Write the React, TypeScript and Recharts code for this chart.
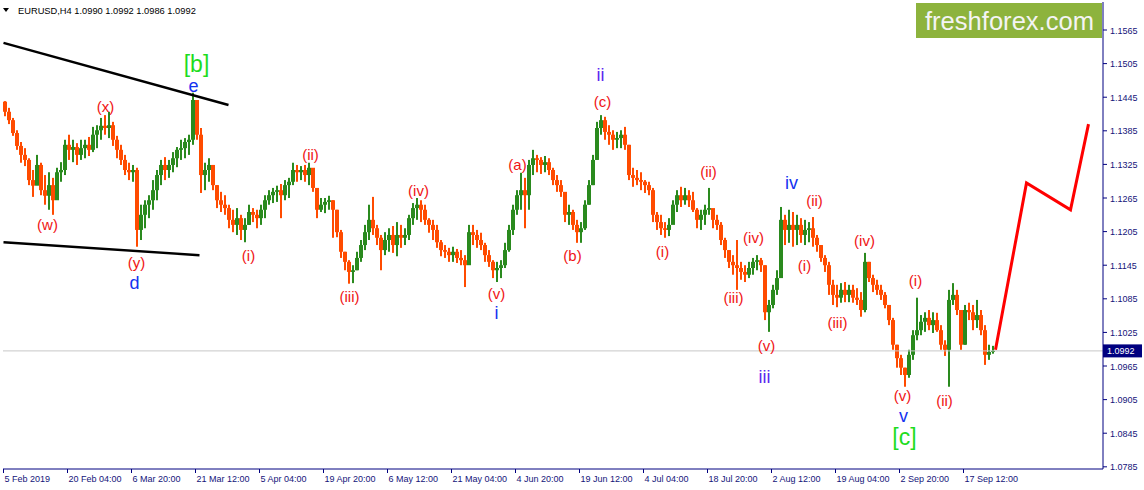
import React from 'react';
import {
  Bar,
  ComposedChart,
  Line,
  ReferenceDot,
  ReferenceLine,
  XAxis,
  YAxis,
} from 'recharts';

// EURUSD H4, 5 Feb - 20 Sep 2019, one candle per 4 H4 bars
const FIRST_OPEN = 1.1437;
const BARS_PER_CANDLE = 4;
const TOTAL_BARS = 1100;

const highs = [
  1.1438, 1.1426, 1.1408, 1.1386, 1.1365, 1.1354, 1.1336, 1.1315, 1.1342, 1.1328,
  1.1306, 1.1311, 1.1301, 1.1319, 1.1329, 1.1369, 1.1378, 1.1369, 1.1363, 1.1369,
  1.1369, 1.1374, 1.1392, 1.1395, 1.1408, 1.1413, 1.1419, 1.1401, 1.1376, 1.136,
  1.1342, 1.1328, 1.1324, 1.1319, 1.1253, 1.1261, 1.127, 1.1297, 1.1315, 1.1333,
  1.1338, 1.1333, 1.1347, 1.1356, 1.1369, 1.1372, 1.1378, 1.1453, 1.144, 1.139,
  1.1328, 1.1336, 1.1324, 1.1288, 1.1276, 1.127, 1.1253, 1.1244, 1.1247, 1.1235,
  1.1229, 1.1253, 1.1247, 1.1244, 1.1253, 1.127, 1.1279, 1.1283, 1.1287, 1.129,
  1.1297, 1.1301, 1.1328, 1.1324, 1.1322, 1.1324, 1.1328, 1.1315, 1.127, 1.1265,
  1.1265, 1.1269, 1.1261, 1.1244, 1.1208, 1.1169, 1.1154, 1.1145, 1.1169, 1.119,
  1.1217, 1.1253, 1.1267, 1.1217, 1.1199, 1.1204, 1.1211, 1.1215, 1.1222, 1.1217,
  1.1211, 1.1235, 1.1256, 1.1265, 1.1261, 1.1253, 1.1229, 1.1226, 1.1217, 1.119,
  1.1181, 1.1176, 1.1178, 1.1174, 1.1172, 1.1163, 1.1217, 1.1217, 1.1208, 1.1203,
  1.1185, 1.1172, 1.1154, 1.1151, 1.1154, 1.1185, 1.1217, 1.1253, 1.1279, 1.131,
  1.1301, 1.1333, 1.1351, 1.1342, 1.1338, 1.134, 1.1336, 1.1319, 1.1306, 1.1297,
  1.127, 1.1253, 1.1244, 1.1226, 1.1222, 1.1261, 1.1297, 1.1342, 1.1401, 1.1413,
  1.141, 1.1395, 1.1386, 1.1383, 1.1386, 1.1392, 1.136, 1.1319, 1.1315, 1.1311,
  1.1297, 1.1294, 1.1283, 1.124, 1.1235, 1.1222, 1.1229, 1.1261, 1.1279, 1.1285,
  1.1283, 1.1279, 1.1276, 1.1247, 1.1244, 1.1253, 1.1283, 1.1244, 1.1235, 1.1222,
  1.1194, 1.1172, 1.1163, 1.119, 1.1151, 1.1145, 1.1151, 1.1158, 1.1163, 1.1158,
  1.1145, 1.1083, 1.111, 1.1136, 1.1249, 1.1235, 1.1244, 1.124, 1.1235, 1.1229,
  1.1226, 1.1222, 1.1231, 1.1199, 1.1181, 1.1163, 1.1151, 1.1119, 1.111, 1.1113,
  1.1115, 1.111, 1.111, 1.1104, 1.1097, 1.1167, 1.1151, 1.1128, 1.1119, 1.111,
  1.1097, 1.1074, 1.1051, 1.1003, 1.0985, 1.0962, 1.0994, 1.1029, 1.1087, 1.1056,
  1.1061, 1.1065, 1.1061, 1.106, 1.1038, 1.1011, 1.1101, 1.1113, 1.1101, 1.1047,
  1.1074, 1.1078, 1.1074, 1.1083, 1.1065, 1.1038, 1.1003, 1.1001,
];

const lows = [
  1.1411, 1.1397, 1.1376, 1.1351, 1.1328, 1.1322, 1.1288, 1.1267, 1.1288, 1.127,
  1.1253, 1.1244, 1.1235, 1.1279, 1.1294, 1.1306, 1.1333, 1.1329, 1.1324, 1.1333,
  1.1336, 1.134, 1.1347, 1.1354, 1.1369, 1.1378, 1.1372, 1.1358, 1.1336, 1.1324,
  1.1306, 1.1297, 1.1294, 1.1178, 1.119, 1.1211, 1.1229, 1.1244, 1.1261, 1.1288,
  1.1297, 1.1301, 1.1311, 1.132, 1.1333, 1.1336, 1.1342, 1.136, 1.1369, 1.1274,
  1.1279, 1.1294, 1.1279, 1.1247, 1.124, 1.1235, 1.1211, 1.1204, 1.1199, 1.119,
  1.1186, 1.1217, 1.1222, 1.1211, 1.1217, 1.1229, 1.1253, 1.1256, 1.1258, 1.1229,
  1.1261, 1.1265, 1.1288, 1.1294, 1.1297, 1.1294, 1.1288, 1.1276, 1.1229, 1.124,
  1.1238, 1.1244, 1.1194, 1.1195, 1.1158, 1.1136, 1.1112, 1.1113, 1.1136, 1.1151,
  1.1172, 1.119, 1.1199, 1.1181, 1.1136, 1.1163, 1.1169, 1.1167, 1.1161, 1.1176,
  1.1181, 1.119, 1.1217, 1.1226, 1.1222, 1.1217, 1.1203, 1.119, 1.1176, 1.1161,
  1.1158, 1.1151, 1.1151, 1.1149, 1.1145, 1.1106, 1.1151, 1.1181, 1.1176, 1.1172,
  1.1151, 1.1142, 1.1122, 1.1115, 1.1122, 1.114, 1.1169, 1.1199, 1.1235, 1.1244,
  1.1211, 1.1244, 1.1306, 1.1311, 1.1308, 1.1311, 1.1306, 1.1288, 1.1276, 1.1267,
  1.1222, 1.1217, 1.1208, 1.1185, 1.1185, 1.1208, 1.1253, 1.1288, 1.1333, 1.1378,
  1.1369, 1.136, 1.1351, 1.1354, 1.1354, 1.1351, 1.1297, 1.1285, 1.1288, 1.1279,
  1.1274, 1.127, 1.1222, 1.1208, 1.1199, 1.1194, 1.1197, 1.1222, 1.124, 1.1249,
  1.1253, 1.1249, 1.124, 1.1211, 1.1208, 1.1217, 1.1235, 1.1211, 1.1208, 1.1181,
  1.1158, 1.114, 1.1128, 1.1101, 1.1119, 1.1115, 1.1122, 1.1128, 1.1136, 1.1133,
  1.1047, 1.1026, 1.1068, 1.1092, 1.1128, 1.1181, 1.1185, 1.1178, 1.1181, 1.1185,
  1.1181, 1.1186, 1.1178, 1.1169, 1.1151, 1.1133, 1.1092, 1.1074, 1.107, 1.1078,
  1.1079, 1.1079, 1.1078, 1.1074, 1.1053, 1.1061, 1.1115, 1.1097, 1.1092, 1.1083,
  1.1068, 1.1038, 1.0994, 1.0962, 1.0949, 1.0928, 1.0944, 1.0976, 1.1011, 1.102,
  1.1026, 1.1029, 1.1024, 1.1026, 1.0994, 1.0983, 1.0928, 1.1074, 1.1056, 1.0994,
  1.1003, 1.1047, 1.1029, 1.1033, 1.102, 1.0967, 1.0976, 1.0987,
];

const closes = [
  1.1419, 1.1404, 1.1381, 1.1358, 1.1342, 1.1333, 1.1297, 1.1287, 1.1324, 1.1279,
  1.1269, 1.1288, 1.1261, 1.1311, 1.1315, 1.136, 1.1351, 1.1356, 1.1342, 1.1354,
  1.136, 1.1351, 1.1378, 1.1386, 1.1394, 1.139, 1.1395, 1.1369, 1.1351, 1.1333,
  1.1315, 1.1311, 1.1315, 1.1208, 1.1235, 1.1253, 1.1261, 1.1279, 1.1306, 1.1324,
  1.1315, 1.1324, 1.1336, 1.1351, 1.1354, 1.1365, 1.1369, 1.144, 1.1378, 1.1306,
  1.1315, 1.1324, 1.1288, 1.1261, 1.1253, 1.1247, 1.1226, 1.1217, 1.1229, 1.1208,
  1.1217, 1.124, 1.1235, 1.1229, 1.1244, 1.1261, 1.127, 1.1276, 1.1279, 1.127,
  1.1288, 1.1294, 1.1315, 1.1311, 1.1315, 1.1306, 1.1319, 1.1283, 1.1244, 1.1253,
  1.1258, 1.1261, 1.1244, 1.1204, 1.1169, 1.1151, 1.1133, 1.1136, 1.1158, 1.1181,
  1.1204, 1.1226, 1.1211, 1.1194, 1.1172, 1.119, 1.1199, 1.1181, 1.1199, 1.1194,
  1.1199, 1.1229, 1.1247, 1.1253, 1.1244, 1.1226, 1.1217, 1.1208, 1.1186, 1.1172,
  1.1169, 1.1163, 1.1169, 1.1158, 1.1154, 1.1145, 1.1204, 1.1199, 1.119, 1.1181,
  1.1163, 1.1151, 1.1136, 1.114, 1.1145, 1.1172, 1.1208, 1.1244, 1.127, 1.1279,
  1.127, 1.1324, 1.1336, 1.1333, 1.1324, 1.1329, 1.1315, 1.1297, 1.1288, 1.1276,
  1.1235, 1.124, 1.1217, 1.1204, 1.1211, 1.1253, 1.1288, 1.1333, 1.139, 1.1404,
  1.1383, 1.1378, 1.1369, 1.1372, 1.1378, 1.136, 1.1306, 1.1301, 1.1297, 1.1294,
  1.1288, 1.1279, 1.1235, 1.1222, 1.1211, 1.1208, 1.1217, 1.1253, 1.127, 1.1261,
  1.127, 1.1261, 1.1244, 1.1226, 1.1235, 1.1244, 1.1247, 1.1226, 1.1217, 1.119,
  1.1172, 1.1151, 1.1145, 1.114, 1.1133, 1.1128, 1.114, 1.1151, 1.1154, 1.1145,
  1.1061, 1.1074, 1.1101, 1.1122, 1.1226, 1.1208, 1.1217, 1.1208, 1.1217, 1.1199,
  1.1208, 1.1211, 1.1194, 1.1181, 1.1158, 1.1145, 1.111, 1.1092, 1.1087, 1.1101,
  1.1092, 1.1101, 1.1087, 1.1083, 1.1065, 1.1151, 1.1122, 1.111, 1.1101, 1.1092,
  1.1074, 1.1047, 1.1003, 1.0979, 1.0962, 1.0949, 1.0985, 1.102, 1.1029, 1.1044,
  1.1051, 1.1038, 1.1047, 1.1029, 1.1003, 1.0994, 1.1083, 1.1092, 1.1065, 1.1003,
  1.1065, 1.1061, 1.1047, 1.1056, 1.1029, 1.0985, 1.099, 1.0992,
];

const timeTickBars = [0, 64, 128, 192, 256, 320, 384, 448, 512, 576, 640, 704, 768, 832, 896, 960];
const timeTickLabels = [
  '5 Feb 2019', '20 Feb 04:00', '6 Mar 20:00', '21 Mar 12:00', '5 Apr 04:00',
  '19 Apr 20:00', '6 May 12:00', '21 May 04:00', '4 Jun 20:00', '19 Jun 12:00',
  '4 Jul 04:00', '18 Jul 20:00', '2 Aug 12:00', '19 Aug 04:00', '2 Sep 20:00',
  '17 Sep 12:00',
];
const priceTicks = [
  1.0785, 1.0845, 1.0905, 1.0965, 1.1025, 1.1085, 1.1145, 1.1205, 1.1265, 1.1325,
  1.1385, 1.1445, 1.1505, 1.1565,
];
const lastPrice = 1.0992;
const headerValues = ['1.0990', '1.0992', '1.0986', '1.0992'];

// forecast drawn after the last bar
const projectionBars = [992, 1023, 1067, 1085];
const projectionPrices = [1.0994, 1.1292, 1.1244, 1.1397];

// triangle borders
const upperTrendBars = [0, 225];
const upperTrendPrices = [1.1542, 1.1431];
const lowerTrendBars = [0, 196];
const lowerTrendPrices = [1.1186, 1.1163];

type Degree = 'sub' | 'minor' | 'minorV' | 'major';
const waveLabels: [string, number, number, Degree][] = [
  ['[b]', 193, 1.1504, 'major'],
  ['e', 190, 1.1465, 'minor'],
  ['d', 131, 1.1113, 'minor'],
  ['(x)', 102, 1.1429, 'sub'],
  ['(w)', 44, 1.1218, 'sub'],
  ['(y)', 133, 1.1149, 'sub'],
  ['(i)', 245, 1.1163, 'sub'],
  ['(ii)', 307, 1.1342, 'sub'],
  ['(iii)', 346, 1.109, 'sub'],
  ['(iv)', 415, 1.1279, 'sub'],
  ['(v)', 493, 1.1094, 'sub'],
  ['i', 493, 1.1059, 'minor'],
  ['(a)', 514, 1.1324, 'sub'],
  ['ii', 597, 1.1485, 'minorV'],
  ['(c)', 599, 1.1437, 'sub'],
  ['(b)', 569, 1.1163, 'sub'],
  ['(i)', 659, 1.1169, 'sub'],
  ['(ii)', 705, 1.1313, 'sub'],
  ['(iii)', 730, 1.1087, 'sub'],
  ['(iv)', 750, 1.1195, 'sub'],
  ['(v)', 763, 1.1001, 'sub'],
  ['iii', 761, 1.0946, 'minorV'],
  ['iv', 788, 1.1292, 'minor'],
  ['(ii)', 811, 1.1261, 'sub'],
  ['(i)', 801, 1.1145, 'sub'],
  ['(iii)', 834, 1.1042, 'sub'],
  ['(iv)', 861, 1.119, 'sub'],
  ['(v)', 899, 1.0913, 'sub'],
  ['v', 900, 1.0876, 'minor'],
  ['[c]', 901, 1.0838, 'major'],
  ['(i)', 912, 1.1117, 'sub'],
  ['(ii)', 941, 1.0904, 'sub'],
];

const Y_DOMAIN: [number, number] = [1.07811, 1.1615];
const AXIS = '#000080';
const AXIS_TEXT = '#14147a';
const UP = '#2a8a1e';
const DOWN = '#ff4b00';
const FONT = '"Liberation Sans", Arial, sans-serif';

const degreeStyle: Record<Degree, { color: string; size: number }> = {
  sub: { color: '#f01414', size: 15 },
  minor: { color: '#1432f0', size: 18 },
  minorV: { color: '#5a28f0', size: 18 },
  major: { color: '#1edc1e', size: 23 },
};

type Row = {
  i: number;
  range?: [number, number];
  open?: number;
  close?: number;
  proj?: number;
};

const rows: Row[] = Array.from({ length: TOTAL_BARS }, (_, i) => ({ i }));
closes.forEach((c, k) => {
  const row = rows[k * BARS_PER_CANDLE + 2];
  row.range = [lows[k], highs[k]];
  row.open = k === 0 ? FIRST_OPEN : closes[k - 1];
  row.close = c;
});
projectionBars.forEach((b, j) => {
  rows[b].proj = projectionPrices[j];
});

// at this zoom MT4 draws bars as plain high-low strokes; the open-close part
// is drawn a little wider so the band reads dense like the original
function Candle(props: any) {
  const { x, y, width, height, payload } = props;
  if (!payload || !payload.range || !Number.isFinite(y)) return null;
  const [lo, hi] = payload.range;
  const top = Math.min(y, y + height);
  const span = Math.abs(height);
  const k = hi > lo ? span / (hi - lo) : 0;
  const toY = (p: number) => top + (hi - p) * k;
  const cx = Math.floor(x + width / 2);
  const color = payload.close >= payload.open ? UP : DOWN;
  const yo = toY(payload.open);
  const yc = toY(payload.close);
  return (
    <g>
      <rect x={cx - 1} y={top} width={2} height={Math.max(1, span)} fill={color} />
      <rect
        x={cx - 2}
        y={Math.min(yo, yc)}
        width={4}
        height={Math.max(1, Math.abs(yo - yc))}
        fill={color}
      />
    </g>
  );
}

function TimeTick({ x, y, payload }: any) {
  const idx = timeTickBars.indexOf(payload.value);
  if (idx < 0) return null;
  const tx = Math.round(x - 0.5) + 0.5;
  return (
    <g>
      <line x1={tx} x2={tx} y1={y} y2={y + 4} stroke={AXIS} />
      <text x={tx + 1} y={y + 13} fontSize={9} fontFamily={FONT} fill={AXIS_TEXT}>
        {timeTickLabels[idx]}
      </text>
    </g>
  );
}

function PriceTick({ x, y, payload }: any) {
  return (
    <g>
      <line x1={x} x2={x + 4} y1={y} y2={y} stroke={AXIS} />
      <text x={x + 7} y={y + 3.5} fontSize={9} fontFamily={FONT} fill={AXIS_TEXT}>
        {Number(payload.value).toFixed(4)}
      </text>
    </g>
  );
}

function LastPriceTag(props: any) {
  const vb = props.viewBox || {};
  const x = (vb.x ?? 0) + (vb.width ?? 0);
  const y = vb.y ?? 0;
  return (
    <g>
      <rect x={x} y={y - 6.5} width={39} height={13} fill={AXIS} />
      <text x={x + 4} y={y + 3.5} fontSize={9} fontFamily={FONT} fill="#ffffff">
        {lastPrice.toFixed(4)}
      </text>
    </g>
  );
}

export default function App() {
  return (
    <div
      style={{
        position: 'absolute',
        left: 0,
        top: 0,
        width: 1144,
        height: 490,
        background: '#ffffff',
        overflow: 'hidden',
      }}
    >
      <ComposedChart
        width={1144}
        height={490}
        data={rows}
        margin={{ top: 2, right: 0, bottom: 0, left: 3 }}
        barCategoryGap={0}
      >
        <XAxis
          xAxisId="top"
          orientation="top"
          dataKey="i"
          height={0}
          tick={false}
          tickLine={false}
          axisLine={{ stroke: AXIS }}
        />
        <YAxis
          yAxisId="left"
          orientation="left"
          type="number"
          domain={Y_DOMAIN}
          allowDataOverflow
          width={0}
          tick={false}
          tickLine={false}
          axisLine={{ stroke: AXIS }}
        />
        <XAxis
          xAxisId="x"
          dataKey="i"
          height={21}
          interval={63}
          tickLine={false}
          tickSize={0}
          tickMargin={0}
          tick={<TimeTick />}
          axisLine={{ stroke: AXIS }}
        />
        <YAxis
          yAxisId="y"
          orientation="right"
          type="number"
          domain={Y_DOMAIN}
          allowDataOverflow
          ticks={priceTicks}
          interval={0}
          width={41}
          tickLine={false}
          tickSize={0}
          tickMargin={0}
          tick={<PriceTick />}
          axisLine={{ stroke: AXIS }}
        />
        <ReferenceLine
          xAxisId="x"
          yAxisId="y"
          y={lastPrice}
          stroke="#c8c8c8"
          label={<LastPriceTag />}
        />
        <Bar
          xAxisId="x"
          yAxisId="y"
          dataKey="range"
          shape={<Candle />}
          isAnimationActive={false}
        />
        <ReferenceLine
          xAxisId="x"
          yAxisId="y"
          ifOverflow="visible"
          segment={[
            { x: upperTrendBars[0], y: upperTrendPrices[0] },
            { x: upperTrendBars[1], y: upperTrendPrices[1] },
          ]}
          stroke="#000000"
          strokeWidth={2.5}
        />
        <ReferenceLine
          xAxisId="x"
          yAxisId="y"
          ifOverflow="visible"
          segment={[
            { x: lowerTrendBars[0], y: lowerTrendPrices[0] },
            { x: lowerTrendBars[1], y: lowerTrendPrices[1] },
          ]}
          stroke="#000000"
          strokeWidth={2.5}
        />
        <Line
          xAxisId="x"
          yAxisId="y"
          dataKey="proj"
          connectNulls
          stroke="#ff0000"
          strokeWidth={3}
          dot={false}
          activeDot={false}
          isAnimationActive={false}
        />
        {waveLabels.map(([text, bar, price, degree], n) => {
          const st = degreeStyle[degree];
          return (
            <ReferenceDot
              key={n}
              xAxisId="x"
              yAxisId="y"
              x={bar}
              y={price}
              r={0}
              ifOverflow="visible"
              shape={(p: any) => (
                <text
                  x={p.cx}
                  y={p.cy}
                  textAnchor="middle"
                  dominantBaseline="central"
                  fontSize={st.size}
                  fontFamily={FONT}
                  fill={st.color}
                >
                  {text}
                </text>
              )}
            />
          );
        })}
      </ComposedChart>
      <svg
        width={300}
        height={20}
        style={{ position: 'absolute', left: 0, top: 0 }}
      >
        <polygon points="3,8 9,8 6,12" fill="#000000" />
        <text x={18} y={14} fontSize={9.3} fontFamily={FONT} fill="#000000">
          {`EURUSD,H4  ${headerValues.join(' ')}`}
        </text>
      </svg>
      <svg
        width={186}
        height={35}
        style={{ position: 'absolute', left: 916, top: 3 }}
      >
        <rect x={0} y={0} width={186} height={35} fill="#8db33d" />
        <text
          x={9}
          y={27}
          fontSize={26}
          fontFamily={FONT}
          fill="#f4f4f4"
          textLength={169}
          lengthAdjust="spacingAndGlyphs"
        >
          freshforex.com
        </text>
      </svg>
    </div>
  );
}
